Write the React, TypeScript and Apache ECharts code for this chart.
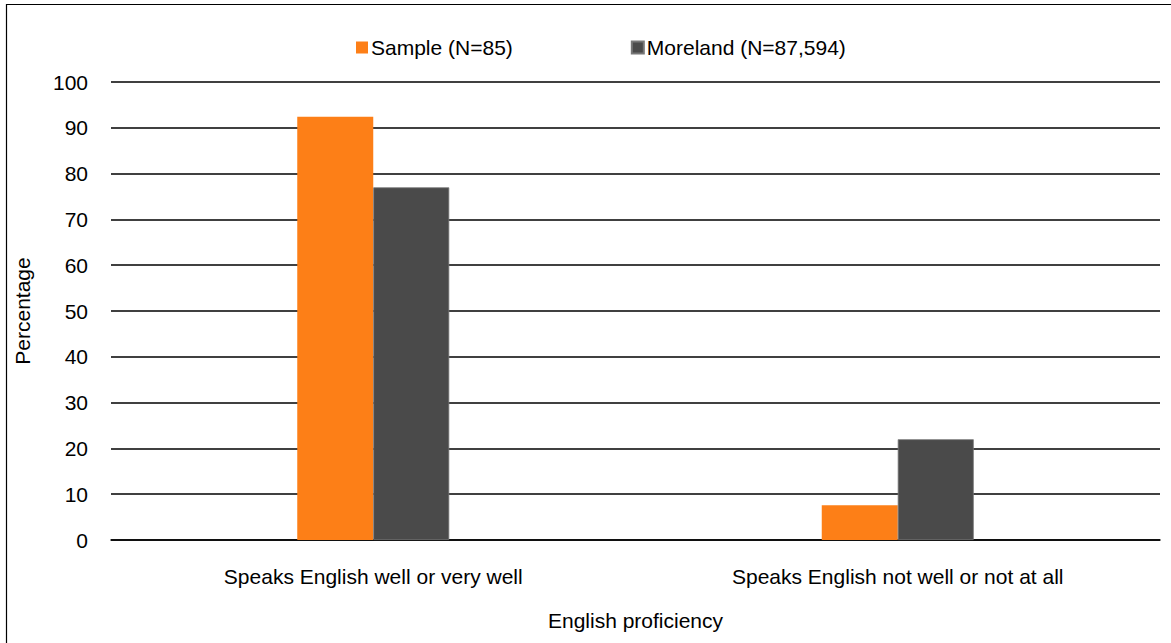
import React, { useEffect, useRef } from "react";
import * as echarts from "echarts";

const categories = ["Speaks English well or very well", "Speaks English not well or not at all"];
const sampleValues = [92.4, 7.6];
const morelandValues = [77.0, 22.0];
const seriesNames = ["Sample (N=85)", "Moreland (N=87,594)"];

const FONT = "'Liberation Sans', Arial, sans-serif";
const FS = 21;

export default function App() {
  const ref = useRef<HTMLDivElement>(null);
  useEffect(() => {
    document.body.style.margin = "0";
    const chart = echarts.init(ref.current!, undefined, { renderer: "svg" });
    chart.setOption({
      animation: false,
      backgroundColor: "#ffffff",
      textStyle: { fontFamily: FONT },
      graphic: [
        {
          type: "rect",
          shape: { x: 6.5, y: 4.5, width: 1300, height: 800 },
          style: { fill: "none", stroke: "#000", lineWidth: 1.2 },
          silent: true,
          z: 100,
        },
      ],
      legend: {
        left: 356,
        top: 37,
        padding: 0,
        itemWidth: 12,
        itemHeight: 12,
        itemGap: 118,
        icon: "rect",
        textStyle: { fontSize: FS, color: "#000", fontFamily: FONT, padding: [0, 0, 0, -2] },
        data: seriesNames,
      },
      grid: {
        left: 111,
        right: 11,
        top: 82,
        bottom: 103,
        containLabel: false,
        outerBoundsMode: "none",
      },
      xAxis: {
        type: "category",
        data: categories,
        name: "English proficiency",
        nameLocation: "middle",
        nameGap: 70,
        nameTextStyle: { fontSize: FS, color: "#000", fontFamily: FONT },
        axisLine: { show: true, lineStyle: { color: "#000", width: 1.5 } },
        axisTick: { show: false },
        axisLabel: { fontSize: FS, color: "#000", margin: 26, fontFamily: FONT },
      },
      yAxis: {
        type: "value",
        min: 0,
        max: 100,
        interval: 10,
        name: "Percentage",
        nameLocation: "middle",
        nameGap: 78,
        nameTextStyle: { fontSize: FS, color: "#000", fontFamily: FONT },
        axisLine: { show: false },
        axisTick: { show: false },
        axisLabel: { fontSize: FS, color: "#000", margin: 23, fontFamily: FONT },
        splitLine: { show: true, lineStyle: { color: "#000", width: 1.5 } },
      },
      series: [
        {
          name: seriesNames[0],
          type: "bar",
          data: sampleValues,
          barWidth: 76,
          barGap: "0%",
          itemStyle: { color: "#FD7F17" },
        },
        {
          name: seriesNames[1],
          type: "bar",
          data: morelandValues,
          barWidth: 76,
          barGap: "0%",
          itemStyle: { color: "#4A4A4A", borderColor: "#777", borderWidth: 0.8 },
        },
      ],
    });
    return () => chart.dispose();
  }, []);
  return <div ref={ref} style={{ width: 1171, height: 643 }} />;
}
